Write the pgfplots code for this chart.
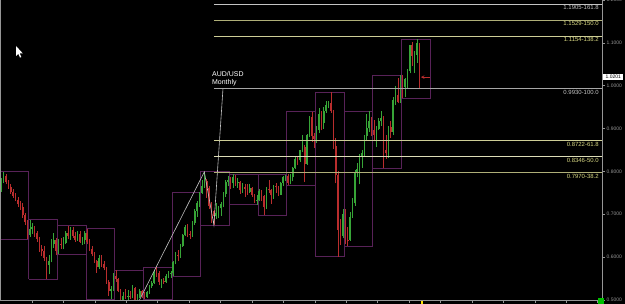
\documentclass[border=0pt]{standalone}
\usepackage{pgfplots}
\pgfplotsset{compat=1.18}
\usepackage{pgfplotstable}
\usepackage{fontspec}
\setmainfont{Liberation Sans}

\definecolor{upc}{RGB}{55,165,55}
\definecolor{dnc}{RGB}{185,45,45}
\definecolor{boxc}{RGB}{88,34,88}
\definecolor{fibw}{RGB}{195,195,195}
\definecolor{fibk}{RGB}{175,175,120}
\definecolor{fibl}{RGB}{205,205,150}
\definecolor{labk}{RGB}{215,215,130}
\definecolor{axc}{RGB}{150,150,150}

% monthly AUD/USD candles, i = month index (0 = Jan 1997)
\pgfplotstableread{
i o h l c
0 0.7600 0.7850 0.7520 0.7800
1 0.7800 0.7990 0.7720 0.7900
2 0.7900 0.7930 0.7700 0.7750
3 0.7750 0.7800 0.7600 0.7640
4 0.7640 0.7700 0.7480 0.7520
5 0.7520 0.7580 0.7380 0.7420
6 0.7420 0.7500 0.7300 0.7340
7 0.7340 0.7400 0.7180 0.7240
8 0.7240 0.7300 0.7100 0.7180
9 0.7180 0.7260 0.6920 0.6980
10 0.6980 0.7020 0.6760 0.6820
11 0.6820 0.6860 0.6420 0.6520
12 0.6520 0.6870 0.6480 0.6660
13 0.6660 0.6800 0.6540 0.6700
14 0.6700 0.6720 0.6480 0.6560
15 0.6560 0.6600 0.6360 0.6420
16 0.6420 0.6460 0.6120 0.6180
17 0.6180 0.6280 0.6020 0.6150
18 0.6150 0.6260 0.5900 0.5980
19 0.5980 0.6000 0.5490 0.5820
20 0.5820 0.6060 0.5600 0.5920
21 0.5920 0.6420 0.5880 0.6300
22 0.6300 0.6560 0.6220 0.6400
23 0.6400 0.6450 0.6040 0.6140
24 0.6140 0.6420 0.6070 0.6300
25 0.6300 0.6440 0.6200 0.6280
26 0.6280 0.6480 0.6180 0.6330
27 0.6330 0.6610 0.6300 0.6570
28 0.6570 0.6730 0.6420 0.6500
29 0.6500 0.6700 0.6400 0.6640
30 0.6640 0.6700 0.6450 0.6500
31 0.6500 0.6580 0.6360 0.6410
32 0.6410 0.6600 0.6380 0.6540
33 0.6540 0.6620 0.6330 0.6360
34 0.6360 0.6480 0.6280 0.6390
35 0.6390 0.6600 0.6300 0.6560
36 0.6560 0.6660 0.6300 0.6360
37 0.6360 0.6420 0.6150 0.6200
38 0.6200 0.6250 0.6020 0.6070
39 0.6070 0.6120 0.5860 0.5900
40 0.5900 0.5940 0.5640 0.5760
41 0.5760 0.6040 0.5720 0.5980
42 0.5980 0.6040 0.5780 0.5830
43 0.5830 0.5920 0.5690 0.5740
44 0.5740 0.5760 0.5380 0.5430
45 0.5430 0.5460 0.5100 0.5200
46 0.5200 0.5330 0.5020 0.5250
47 0.5250 0.5620 0.5220 0.5560
48 0.5560 0.5700 0.5420 0.5500
49 0.5500 0.5520 0.5180 0.5220
50 0.5220 0.5260 0.4860 0.4900
51 0.4900 0.5180 0.4775 0.5090
52 0.5090 0.5260 0.5020 0.5080
53 0.5080 0.5240 0.5000 0.5090
54 0.5090 0.5220 0.5020 0.5060
55 0.5060 0.5340 0.5040 0.5270
56 0.5270 0.5300 0.4800 0.4930
57 0.4930 0.5140 0.4890 0.5060
58 0.5060 0.5260 0.5040 0.5210
59 0.5210 0.5240 0.5040 0.5100
60 0.5100 0.5180 0.5020 0.5080
61 0.5080 0.5200 0.5050 0.5190
62 0.5190 0.5360 0.5150 0.5320
63 0.5320 0.5450 0.5280 0.5400
64 0.5400 0.5700 0.5380 0.5660
65 0.5660 0.5770 0.5540 0.5630
66 0.5630 0.5680 0.5340 0.5420
67 0.5420 0.5500 0.5280 0.5450
68 0.5450 0.5520 0.5380 0.5420
69 0.5420 0.5600 0.5400 0.5560
70 0.5560 0.5680 0.5520 0.5620
71 0.5620 0.5680 0.5520 0.5640
72 0.5640 0.5920 0.5560 0.5880
73 0.5880 0.6120 0.5830 0.6060
74 0.6060 0.6160 0.5900 0.6020
75 0.6020 0.6300 0.5980 0.6270
76 0.6270 0.6550 0.6240 0.6510
77 0.6510 0.6760 0.6500 0.6700
78 0.6700 0.6780 0.6460 0.6530
79 0.6530 0.6600 0.6430 0.6510
80 0.6510 0.6840 0.6480 0.6790
81 0.6790 0.7120 0.6760 0.7080
82 0.7080 0.7320 0.6940 0.7260
83 0.7260 0.7520 0.7180 0.7500
84 0.7500 0.7800 0.7480 0.7660
85 0.7660 0.7990 0.7620 0.7780
86 0.7780 0.7820 0.7380 0.7620
87 0.7620 0.7660 0.7120 0.7200
88 0.7200 0.7280 0.6800 0.7080
89 0.7080 0.7100 0.6750 0.6970
90 0.6970 0.7260 0.6900 0.7040
91 0.7040 0.7200 0.6910 0.7140
92 0.7140 0.7280 0.6960 0.7250
93 0.7250 0.7520 0.7160 0.7470
94 0.7470 0.7800 0.7400 0.7760
95 0.7760 0.7900 0.7660 0.7810
96 0.7810 0.7880 0.7580 0.7720
97 0.7720 0.7940 0.7620 0.7880
98 0.7880 0.7920 0.7670 0.7720
99 0.7720 0.7840 0.7620 0.7760
100 0.7760 0.7780 0.7480 0.7560
101 0.7560 0.7740 0.7500 0.7630
102 0.7630 0.7700 0.7400 0.7600
103 0.7600 0.7700 0.7460 0.7530
104 0.7530 0.7700 0.7500 0.7620
105 0.7620 0.7640 0.7400 0.7450
106 0.7450 0.7480 0.7260 0.7330
107 0.7330 0.7460 0.7220 0.7340
108 0.7340 0.7580 0.7320 0.7540
109 0.7540 0.7560 0.7320 0.7420
110 0.7420 0.7450 0.6980 0.7160
111 0.7160 0.7640 0.7120 0.7590
112 0.7590 0.7790 0.7500 0.7560
113 0.7560 0.7580 0.7250 0.7440
114 0.7440 0.7680 0.7360 0.7650
115 0.7650 0.7720 0.7500 0.7630
116 0.7630 0.7670 0.7420 0.7460
117 0.7460 0.7760 0.7460 0.7740
118 0.7740 0.7900 0.7650 0.7860
119 0.7860 0.7920 0.7780 0.7890
120 0.7890 0.7930 0.7680 0.7740
121 0.7740 0.7930 0.7700 0.7880
122 0.7880 0.8100 0.7770 0.8080
123 0.8080 0.8340 0.8050 0.8280
124 0.8280 0.8350 0.8140 0.8260
125 0.8260 0.8500 0.8230 0.8490
126 0.8490 0.8850 0.8450 0.8560
127 0.8560 0.8620 0.7760 0.8180
128 0.8180 0.8880 0.8150 0.8860
129 0.8860 0.9290 0.8800 0.9260
130 0.9260 0.9390 0.8680 0.8830
131 0.8830 0.8900 0.8550 0.8760
132 0.8760 0.9050 0.8670 0.8970
133 0.8970 0.9480 0.8900 0.9340
134 0.9340 0.9420 0.8960 0.9130
135 0.9130 0.9500 0.9000 0.9420
136 0.9420 0.9640 0.9370 0.9560
137 0.9560 0.9640 0.9470 0.9600
138 0.9600 0.9850 0.9360 0.9420
139 0.9420 0.9430 0.8520 0.8600
140 0.8600 0.8790 0.7720 0.7920
141 0.7920 0.8000 0.6010 0.6640
142 0.6640 0.6890 0.6280 0.6500
143 0.6500 0.7130 0.6440 0.7000
144 0.7000 0.7120 0.6300 0.6410
145 0.6410 0.6700 0.6250 0.6400
146 0.6400 0.7060 0.6380 0.6940
147 0.6940 0.7380 0.6920 0.7260
148 0.7260 0.8030 0.7200 0.7970
149 0.7970 0.8200 0.7860 0.8060
150 0.8060 0.8400 0.7700 0.8370
151 0.8370 0.8500 0.8080 0.8430
152 0.8430 0.8840 0.8340 0.8820
153 0.8820 0.9340 0.8740 0.9010
154 0.9010 0.9400 0.8920 0.9180
155 0.9180 0.9260 0.8820 0.8970
156 0.8970 0.9200 0.8700 0.8860
157 0.8860 0.9060 0.8580 0.8980
158 0.8980 0.9240 0.8960 0.9170
159 0.9170 0.9400 0.9070 0.9240
160 0.9240 0.9300 0.8070 0.8500
161 0.8500 0.8850 0.8300 0.8420
162 0.8420 0.9070 0.8320 0.9030
163 0.9030 0.9170 0.8770 0.8920
164 0.8920 0.9730 0.8850 0.9670
165 0.9670 0.9990 0.9550 0.9790
166 0.9790 1.0180 0.9590 0.9630
167 0.9630 1.0250 0.9600 1.0210
168 1.0210 1.0250 0.9710 0.9970
169 0.9970 1.0190 0.9730 1.0160
170 1.0160 1.0390 0.9920 1.0340
171 1.0340 1.0950 1.0290 1.0940
172 1.0940 1.1010 1.0450 1.0700
173 1.0700 1.0800 1.0300 1.0720
174 1.0720 1.1080 1.0530 1.0990
175 1.0990 1.1000 0.9920 1.0201
}\candles

% yearly high/low boxes
\pgfplotstableread{
x y
-0.5 0.642
-0.5 0.799
11.5 0.799
11.5 0.642
-0.5 0.642
nan nan
11.5 0.549
11.5 0.687
23.5 0.687
23.5 0.549
11.5 0.549
nan nan
23.5 0.607
23.5 0.673
35.5 0.673
35.5 0.607
23.5 0.607
nan nan
35.5 0.502
35.5 0.666
47.5 0.666
47.5 0.502
35.5 0.502
nan nan
47.5 0.4775
47.5 0.570
59.5 0.570
59.5 0.4775
47.5 0.4775
nan nan
59.5 0.502
59.5 0.577
71.5 0.577
71.5 0.502
59.5 0.502
nan nan
71.5 0.556
71.5 0.752
83.5 0.752
83.5 0.556
71.5 0.556
nan nan
83.5 0.675
83.5 0.799
95.5 0.799
95.5 0.675
83.5 0.675
nan nan
95.5 0.722
95.5 0.794
107.5 0.794
107.5 0.722
95.5 0.722
nan nan
107.5 0.698
107.5 0.792
119.5 0.792
119.5 0.698
107.5 0.698
nan nan
119.5 0.768
119.5 0.939
131.5 0.939
131.5 0.768
119.5 0.768
nan nan
131.5 0.601
131.5 0.985
143.5 0.985
143.5 0.601
131.5 0.601
nan nan
143.5 0.625
143.5 0.940
155.5 0.940
155.5 0.625
143.5 0.625
nan nan
155.5 0.807
155.5 1.025
167.5 1.025
167.5 0.807
155.5 0.807
nan nan
167.5 0.971
167.5 1.108
179.5 1.108
179.5 0.971
167.5 0.971
}\boxes

\begin{document}
\begin{tikzpicture}
\fill[black] (0,0) rectangle (625bp,304bp);
\useasboundingbox (0,0) rectangle (625bp,304bp);
\begin{axis}[
  at={(0,4bp)}, anchor=south west,
  scale only axis, width=602bp, height=300bp,
  xmin=-0.5, xmax=251.4, ymin=0.5, ymax=1.2,
  axis line style={draw=none},
  tick align=outside, major tick length=3bp,
  tick style={draw=axc, line width=0.5bp},
  xtick={12.9,26.05,39.2,52.35,65.5,78.65,91.8,104.95,118.1,131.25,144.4,157.55,170.7,183.85,197.0,210.15,223.3,236.45,249.6},
  xticklabels={}, xtick pos=left,
  ytick={0.5,0.6,0.7,0.8,0.9,1.0,1.1,1.2},
  yticklabels={0.5000,0.6000,0.7000,0.8000,0.9000,1.0000,1.1000,1.2000},
  ytick pos=right, yticklabel pos=right,
  yticklabel style={font=\fontsize{5}{6}\selectfont, text=axc, inner xsep=1.5bp},
  unbounded coords=discard,
]
% yearly boxes
\addplot[boxc, line width=0.75bp, unbounded coords=jump, mark=none] table[x=x,y=y] {\boxes};
% up candles: wick and body
\addplot[draw=none, mark=none, error bars/.cd, y dir=plus, y explicit, error mark=none,
  error bar style={draw=upc, line width=0.7bp}]
  table[x=i, y expr={\thisrow{c}<\thisrow{o} ? nan : \thisrow{l}}, y error plus expr=\thisrow{h}-\thisrow{l}] {\candles};
\addplot[draw=none, mark=none, error bars/.cd, y dir=plus, y explicit, error mark=none,
  error bar style={draw=upc, line width=1.6bp}]
  table[x=i, y expr={\thisrow{c}<\thisrow{o} ? nan : \thisrow{o}}, y error plus expr=\thisrow{c}-\thisrow{o}] {\candles};
% down candles
\addplot[draw=none, mark=none, error bars/.cd, y dir=plus, y explicit, error mark=none,
  error bar style={draw=dnc, line width=0.7bp}]
  table[x=i, y expr={\thisrow{c}<\thisrow{o} ? \thisrow{l} : nan}, y error plus expr=\thisrow{h}-\thisrow{l}] {\candles};
\addplot[draw=none, mark=none, error bars/.cd, y dir=plus, y explicit, error mark=none,
  error bar style={draw=dnc, line width=1.6bp}]
  table[x=i, y expr={\thisrow{c}<\thisrow{o} ? \thisrow{c} : nan}, y error plus expr=\thisrow{o}-\thisrow{c}] {\candles};
% Fibonacci expansion anchor line A-B-C-D
\addplot[fibw, line width=0.6bp, mark=none] coordinates {(56,0.4794) (85,0.7990) (89,0.6750) (92.8,0.9930)};
% Fibonacci levels
\addplot[fibw, line width=0.8bp, mark=none] coordinates {(89,1.1905) (251.4,1.1905)};
\addplot[fibk, line width=0.8bp, mark=none] coordinates {(89,1.1529) (251.4,1.1529)};
\addplot[fibl, line width=0.8bp, mark=none] coordinates {(89,1.1154) (251.4,1.1154)};
\addplot[fibw!85!black, line width=0.8bp, mark=none] coordinates {(89,0.9930) (251.4,0.9930)};
\addplot[fibl, line width=0.8bp, mark=none] coordinates {(89,0.8722) (251.4,0.8722)};
\addplot[fibl!70!white, line width=0.8bp, mark=none] coordinates {(89,0.8346) (251.4,0.8346)};
\addplot[fibk, line width=0.8bp, mark=none] coordinates {(89,0.7970) (251.4,0.7970)};
% level labels
\begin{scope}[every node/.style={anchor=north east, inner sep=0pt, yshift=-1.2bp, font=\fontsize{6}{6}\selectfont}]
\node[text=fibw] at (axis cs:250.1,1.1905) {1.1905-161.8};
\node[text=labk] at (axis cs:250.1,1.1529) {1.1529-150.0};
\node[text=labk] at (axis cs:250.1,1.1154) {1.1154-138.2};
\node[text=fibw] at (axis cs:250.1,0.9930) {0.9930-100.0};
\node[text=labk] at (axis cs:250.1,0.8722) {0.8722-61.8};
\node[text=labk] at (axis cs:250.1,0.8346) {0.8346-50.0};
\node[text=labk] at (axis cs:250.1,0.7970) {0.7970-38.2};
\end{scope}
\node[anchor=north west, inner sep=0pt, align=left, text=white, font=\fontsize{7}{8}\selectfont] at (axis cs:88.2,1.033) {AUD/USD\\Monthly};
% current price arrow
\draw[dnc, line width=0.6bp, ->, >=stealth] (axis cs:179.4,1.0201) -- (axis cs:175.6,1.0201);
\coordinate (SW) at (rel axis cs:0,0);
\coordinate (NE) at (rel axis cs:1,1);
\coordinate (PB) at (axis cs:251.4,1.0201);
\end{axis}
\draw[axc, line width=0.8bp] (SW |- NE) -- (SW) -- (SW -| NE) -- (NE);
\node[fill=white, text=black, anchor=west, inner xsep=2.2bp, inner ysep=1.6bp, font=\fontsize{5}{5}\selectfont] at ([xshift=1.2bp]PB) {1.0201};
% bottom markers
\fill[green!75!black] (597.5bp,0.5bp) rectangle (603.5bp,5.5bp);
\fill[yellow!85!orange] (421.3bp,0.3bp) rectangle (422.8bp,3.3bp);
% mouse pointer
\fill[white] (16bp,258bp) -- (16bp,248bp) -- (18.3bp,250.2bp) -- (20bp,246.4bp) -- (21.3bp,247bp) -- (19.7bp,250.6bp) -- (22.8bp,250.6bp) -- cycle;
\end{tikzpicture}
\end{document}
